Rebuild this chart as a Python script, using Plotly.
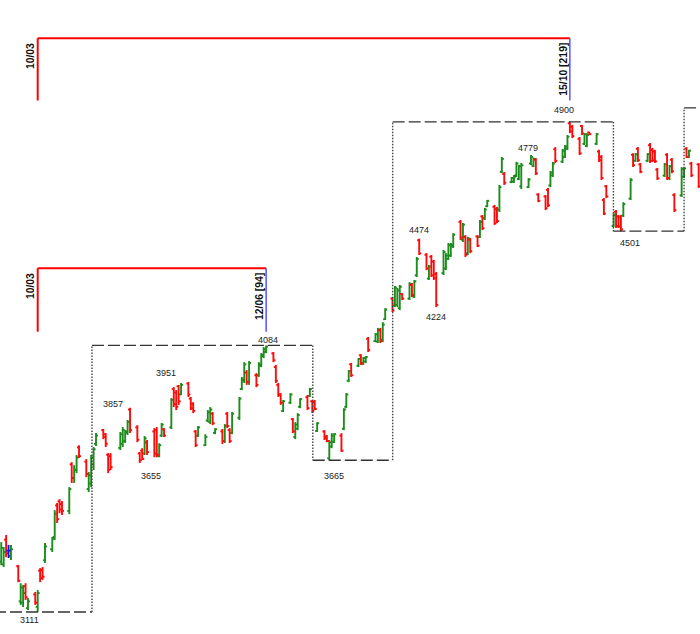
import pandas as pd
import plotly.graph_objects as go

# ---------------- data ----------------
HOLIDAYS = ["2015-04-10"]
DATES = [d for d in pd.bdate_range("2015-02-23", "2015-12-07")
         if d.strftime("%Y-%m-%d") not in HOLIDAYS]

OPEN = [3295, 3285, 3375, 3335, 3315,
        3278, 3150, 3145, 3205, 3125,
        3175, 3130, 3262, 3265, 3300,
        3340, 3385, 3500, 3515, 3505,
        3480, 3650, 3600, 3630, 3712,
        3660, 3560, 3580, 3650, 3725,
        3775, 3760, 3685, 3680,
        3710, 3725, 3735, 3765, 3850,
        3785, 3690, 3700, 3690, 3730,
        3770, 3775, 3680, 3755, 3778,
        3785, 3925, 3912, 3935, 3905,
        3945, 3890, 3870, 3770, 3755,
        3720, 3810, 3805, 3835, 3765,
        3770, 3735, 3835, 3775, 3765,
        3820, 3925, 3955, 3985, 3950,
        3975, 3975, 4010, 4045, 4060,
        4055, 4005, 3940, 3905, 3845,
        3875, 3815, 3750, 3780, 3860,
        3895, 3900, 3880, 3878, 3772,
        3770, 3752, 3672, 3715, 3732,
        3755, 3780, 3860, 3955, 4015,
        4010, 4048, 4018, 4025, 4108,
        4100, 4098, 4140, 4105, 4180,
        4255, 4230, 4232, 4220, 4272,
        4255, 4305, 4262, 4340, 4468,
        4415, 4328, 4408, 4390, 4345,
        4348, 4365, 4400, 4412, 4445,
        4535, 4470, 4480, 4420, 4470,
        4482, 4480, 4555, 4548, 4592,
        4590, 4582, 4580, 4718, 4710,
        4680, 4682, 4705, 4692, 4665,
        4662, 4748, 4740, 4762, 4635,
        4628, 4652, 4668, 4705, 4800,
        4755, 4772, 4802, 4895, 4882,
        4838, 4885, 4820, 4812, 4862,
        4820, 4792, 4772, 4615, 4665,
        4520, 4572, 4555, 4552, 4558,
        4620, 4780, 4758, 4802, 4745,
        4758, 4815, 4798, 4792, 4726,
        4704, 4780, 4694, 4762, 4633,
        4632, 4700, 4802, 4772, 4748,
        4745]
HIGH = [3366, 3348, 3392, 3356, 3356,
        3283, 3216, 3210, 3216, 3162,
        3184, 3191, 3271, 3275, 3363,
        3385, 3483, 3509, 3523, 3516,
        3567, 3658, 3647, 3684, 3720,
        3669, 3622, 3684, 3713, 3764,
        3779, 3764, 3691, 3691,
        3768, 3786, 3775, 3812, 3857,
        3793, 3695, 3709, 3753, 3739,
        3782, 3786, 3727, 3801, 3782,
        3892, 3932, 3921, 3940, 3947,
        3951, 3896, 3877, 3775, 3790,
        3760, 3848, 3859, 3841, 3782,
        3779, 3797, 3841, 3782, 3841,
        3896, 3969, 4023, 3994, 4027,
        3983, 4023, 4056, 4078, 4084,
        4060, 4013, 3947, 3910, 3885,
        3910, 3819, 3804, 3837, 3892,
        3903, 3929, 3885, 3885, 3804,
        3775, 3757, 3739, 3764, 3764,
        3764, 3855, 3910, 3994, 4020,
        4038, 4052, 4042, 4045, 4115,
        4129, 4148, 4148, 4169, 4220,
        4261, 4301, 4294, 4305, 4275,
        4315, 4312, 4323, 4407, 4474,
        4421, 4378, 4414, 4396, 4352,
        4433, 4421, 4458, 4458, 4494,
        4542, 4531, 4487, 4480, 4476,
        4487, 4542, 4560, 4586, 4615,
        4597, 4589, 4670, 4772, 4717,
        4699, 4706, 4754, 4743, 4750,
        4695, 4779, 4770, 4768, 4640,
        4633, 4659, 4721, 4754, 4808,
        4801, 4816, 4852, 4900, 4889,
        4845, 4889, 4859, 4859, 4863,
        4859, 4798, 4779, 4622, 4670,
        4567, 4578, 4560, 4560, 4607,
        4695, 4786, 4786, 4808, 4750,
        4786, 4823, 4805, 4798, 4732,
        4750, 4786, 4743, 4768, 4640,
        4735, 4735, 4808, 4798, 4754,
        4750]
LOW = [3282, 3275, 3311, 3308, 3301,
       3220, 3137, 3129, 3155, 3118,
       3137, 3111, 3220, 3228, 3290,
       3330, 3374, 3436, 3472, 3465,
       3468, 3582, 3582, 3618, 3673,
       3603, 3549, 3567, 3629, 3717,
       3742, 3713, 3618, 3629,
       3702, 3713, 3728, 3757, 3764,
       3731, 3655, 3666, 3684, 3684,
       3676, 3676, 3676, 3750, 3750,
       3779, 3859, 3848, 3867, 3903,
       3896, 3848, 3837, 3713, 3750,
       3717, 3804, 3797, 3793, 3760,
       3724, 3728, 3782, 3728, 3760,
       3812, 3921, 3947, 3940, 3940,
       3932, 3969, 4005, 4038, 4056,
       4023, 3947, 3896, 3867, 3841,
       3870, 3764, 3742, 3775, 3855,
       3848, 3896, 3837, 3848, 3768,
       3739, 3731, 3665, 3709, 3728,
       3695, 3775, 3855, 3950, 3969,
       4005, 4013, 4013, 4020, 4060,
       4096, 4093, 4093, 4096, 4177,
       4206, 4224, 4224, 4213, 4250,
       4250, 4261, 4257, 4334, 4414,
       4359, 4323, 4334, 4323, 4224,
       4341, 4359, 4396, 4407, 4440,
       4469, 4462, 4407, 4414, 4421,
       4443, 4476, 4505, 4542, 4589,
       4524, 4531, 4571, 4713, 4670,
       4677, 4677, 4699, 4688, 4655,
       4659, 4743, 4735, 4706, 4607,
       4578, 4589, 4662, 4699, 4750,
       4750, 4768, 4797, 4859, 4841,
       4779, 4852, 4816, 4808, 4852,
       4816, 4754, 4688, 4560, 4622,
       4516, 4513, 4513, 4501, 4553,
       4615, 4735, 4754, 4754, 4713,
       4754, 4750, 4754, 4750, 4688,
       4699, 4688, 4688, 4713, 4571,
       4626, 4695, 4768, 4768, 4699,
       4659]
CLOSE = [3345, 3330, 3325, 3335, 3340,
         3225, 3200, 3180, 3165, 3150,
         3145, 3180, 3235, 3240, 3350,
         3378, 3470, 3450, 3485, 3480,
         3560, 3600, 3630, 3675, 3680,
         3615, 3610, 3675, 3705, 3755,
         3750, 3725, 3630, 3640,
         3760, 3775, 3770, 3805, 3775,
         3740, 3665, 3670, 3745, 3695,
         3690, 3685, 3720, 3795, 3755,
         3885, 3870, 3860, 3880, 3940,
         3905, 3855, 3845, 3720, 3785,
         3750, 3840, 3850, 3800, 3778,
         3735, 3790, 3790, 3735, 3835,
         3890, 3960, 4015, 3950, 4020,
         3940, 4015, 4050, 4070, 4080,
         4030, 3955, 3905, 3875, 3880,
         3905, 3770, 3795, 3830, 3888,
         3855, 3925, 3845, 3852, 3800,
         3745, 3735, 3730, 3755, 3760,
         3700, 3850, 3905, 3990, 3975,
         4035, 4018, 4038, 4042, 4068,
         4125, 4140, 4100, 4160, 4215,
         4212, 4295, 4285, 4298, 4255,
         4308, 4268, 4318, 4400, 4420,
         4365, 4372, 4340, 4330, 4232,
         4425, 4412, 4450, 4452, 4488,
         4478, 4525, 4415, 4475, 4428,
         4448, 4535, 4512, 4580, 4612,
         4530, 4538, 4662, 4765, 4678,
         4695, 4700, 4748, 4738, 4742,
         4690, 4772, 4765, 4712, 4612,
         4585, 4595, 4715, 4748, 4758,
         4795, 4810, 4846, 4865, 4848,
         4785, 4858, 4855, 4852, 4855,
         4855, 4760, 4695, 4565, 4628,
         4560, 4520, 4518, 4508, 4600,
         4688, 4742, 4782, 4760, 4718,
         4782, 4758, 4760, 4756, 4694,
         4745, 4695, 4738, 4720, 4578,
         4728, 4730, 4772, 4795, 4705,
         4665]
FLAGGED_BARS = [3]          # bar drawn in blue

# pivot labels: bar date, pivot value
PIVOT_DATES = ["2015-03-10", "2015-04-17", "2015-05-11", "2015-04-21", "2015-06-12",
               "2015-07-08", "2015-08-14", "2015-08-21", "2015-09-29", "2015-10-15",
               "2015-11-05"]
PIVOT_VALUES = [3111, 3857, 3951, 3655, 4084, 3665, 4474, 4224, 4779, 4900, 4501]

# zig-zag swing boxes: level of each leg and the date where each leg changes
ZZ_LEVELS = [3111, 4084, 3665, 4900, 4501, 4951]
ZZ_DATES = ["2015-02-20", "2015-04-01 08:00", "2015-07-01 05:00", "2015-08-03 02:00",
            "2015-11-01 22:00", "2015-12-01 00:00", "2015-12-10"]

# time-span brackets: start date, end date, start label, end label
BRACKETS = [("2015-03-10", "2015-10-15", "10/03", "15/10 [219]"),
            ("2015-03-10", "2015-06-12", "10/03", "12/06 [94]")]

# ---------------- layout constants ----------------
W, H = 700, 634
X_RANGE = ["2015-02-22 11:40", "2015-12-07 13:15"]
Y_RANGE = [3030.7, 5345]
GREEN, RED, BLUE = "#1c8c1c", "#ff0a0a", "#1010ff"
TICK = pd.Timedelta(hours=20)

LABEL_SHIFTS = [(-8, -8), (-17.5, 4), (-22.4, 9.3), (11.5, -12.6), (1.4, 5.4),
                (4.4, -15.4), (-0.5, 8.6), (-0.7, -9.9), (-3, 7), (-5.4, 12.2),
                (8.8, -11.3)]
BRACKET_PAPER = [(1 - 38.3 / H, 1 - 100.5 / H), (1 - 268.3 / H, 1 - 331.7 / H)]


def bar_segments(indices):
    xs, ys = [], []
    for i in indices:
        d = DATES[i]
        xs += [d, d, None, d - TICK, d, None, d, d + TICK, None]
        ys += [LOW[i], HIGH[i], None, OPEN[i], OPEN[i], None, CLOSE[i], CLOSE[i], None]
    return xs, ys


n = len(DATES)
up = [i for i in range(n) if i not in FLAGGED_BARS and CLOSE[i] > OPEN[i]]
down = [i for i in range(n) if i not in FLAGGED_BARS and CLOSE[i] <= OPEN[i]]

fig = go.Figure()
for idx, col in ((up, GREEN), (down, RED), (FLAGGED_BARS, BLUE)):
    xs, ys = bar_segments(idx)
    fig.add_trace(go.Scatter(x=xs, y=ys, mode="lines",
                             line=dict(color=col, width=1.9),
                             hoverinfo="skip", showlegend=False))

shapes = []
# zig-zag boxes
for k, lvl in enumerate(ZZ_LEVELS):
    shapes.append(dict(type="line", xref="x", yref="y",
                       x0=ZZ_DATES[k], x1=ZZ_DATES[k + 1], y0=lvl, y1=lvl,
                       line=dict(color="#333333", width=1.3, dash="12px,4px")))
    if k > 0:
        shapes.append(dict(type="line", xref="x", yref="y",
                           x0=ZZ_DATES[k], x1=ZZ_DATES[k], y0=ZZ_LEVELS[k - 1], y1=lvl,
                           line=dict(color="#444444", width=1.4, dash="1.5px,1.5px")))

annotations = []
for (d0, d1, t0, t1), (ytop, ybot) in zip(BRACKETS, BRACKET_PAPER):
    shapes.append(dict(type="line", xref="x", yref="paper", x0=d0, x1=d0, y0=ybot, y1=ytop,
                       line=dict(color="#ff0000", width=2)))
    shapes.append(dict(type="line", xref="x", yref="paper", x0=d0, x1=d1, y0=ytop, y1=ytop,
                       line=dict(color="#ff0000", width=2)))
    shapes.append(dict(type="line", xref="x", yref="paper", x0=d1, x1=d1, y0=ybot, y1=ytop,
                       line=dict(color="#3a3aff", width=1.3)))
    for d, t in ((d0, t0), (d1, t1)):
        annotations.append(dict(x=d, y=ytop - 2.6 / H, xref="x", yref="paper",
                                text="<b>" + t + "</b>", textangle=-90, showarrow=False,
                                xanchor="center", yanchor="top", xshift=-6.5,
                                font=dict(family="Liberation Sans", size=10.4, color="#111111")))

for d, v, (dx, dy) in zip(PIVOT_DATES, PIVOT_VALUES, LABEL_SHIFTS):
    annotations.append(dict(x=d, y=v, xref="x", yref="y", text=str(v), showarrow=False,
                            xanchor="center", yanchor="middle", xshift=dx, yshift=dy,
                            font=dict(family="Liberation Sans", size=9, color="#222222")))

fig.update_layout(
    width=W, height=H,
    margin=dict(l=0, r=0, t=0, b=0),
    paper_bgcolor="white", plot_bgcolor="white",
    xaxis=dict(type="date", range=X_RANGE, visible=False, fixedrange=True),
    yaxis=dict(range=Y_RANGE, visible=False, fixedrange=True),
    shapes=shapes, annotations=annotations, showlegend=False,
)

fig.write_html("out.html")
